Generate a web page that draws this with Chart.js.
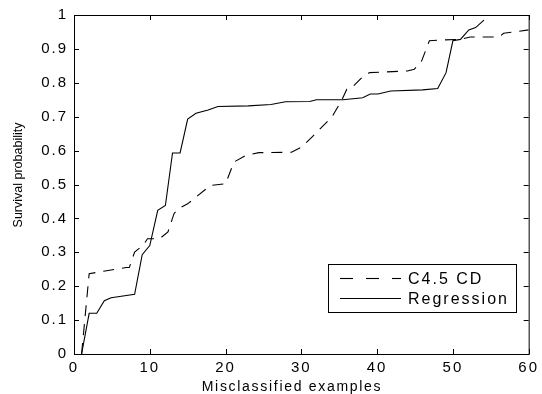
<!DOCTYPE html>
<html>
<head>
<meta charset="utf-8">
<script src="https://cdn.jsdelivr.net/npm/chart.js@4/dist/chart.umd.min.js"></script>
<style>
  html, body { margin: 0; padding: 0; background: #fff; }
  #wrap { width: 542px; height: 394px; }
</style>
</head>
<body>
<div id="wrap"><canvas id="surv" width="542" height="394"></canvas></div>
<script>
// curvas (x = exemplos mal classificados, y = probabilidade)
const c45X = [1, 2, 4.1, 6.9, 7.3, 8, 9.1, 9.7, 11.3, 12.4, 13.2, 13.7, 15, 18, 20, 21.1, 22.6, 24.4, 28.7, 30, 31.4, 34, 35.3, 36, 36.6, 38.1, 39, 44, 44.9, 45.8, 46.9, 48.2, 51, 52.3, 56.1, 56.7, 60];
const c45Y = [0, 0.237, 0.245, 0.255, 0.255, 0.301, 0.32, 0.34, 0.34, 0.36, 0.414, 0.428, 0.443, 0.497, 0.502, 0.566, 0.585, 0.594, 0.595, 0.61, 0.64, 0.698, 0.747, 0.781, 0.784, 0.818, 0.83, 0.835, 0.84, 0.86, 0.924, 0.926, 0.928, 0.935, 0.935, 0.946, 0.956];

const regX = [1, 2, 3, 4, 4.9, 5.8, 8, 9, 10, 11.05, 12.06, 13, 14, 15, 16.1, 17.7, 19, 23, 26, 27.9, 31.1, 32, 35.5, 38.1, 39.1, 40.1, 41.8, 46, 48, 49.1, 50, 51, 52.1, 53, 54.1];
const regY = [0, 0.12, 0.12, 0.157, 0.166, 0.169, 0.176, 0.293, 0.32, 0.424, 0.438, 0.593, 0.593, 0.693, 0.71, 0.72, 0.73, 0.732, 0.736, 0.744, 0.745, 0.75, 0.75, 0.756, 0.767, 0.767, 0.776, 0.779, 0.783, 0.83, 0.924, 0.928, 0.956, 0.963, 0.985];

const xTicks = [0, 10, 20, 30, 40, 50, 60];
const yTicks = [0, 0.1, 0.2, 0.3, 0.4, 0.5, 0.6, 0.7, 0.8, 0.9, 1];

const xTitle = 'Misclassified examples';
const yTitle = 'Survival probability';

const toPoints = (xs, ys) => xs.map((x, i) => ({ x: x, y: ys[i] }));
const FONT = "'Liberation Sans', Arial, sans-serif";

// a figura original é "esticada" na horizontal, então espaço entre letras
const spacingPlugin = {
    id: 'spacingPlugin',
    beforeDraw(chart) {
        chart.ctx.letterSpacing = '2px';
    }
};

// caixa, ticks para dentro, títulos e legenda estilo matlab
const boxPlugin = {
    id: 'boxPlugin',
    afterDraw(chart) {
        const ctx = chart.ctx;
        const a = chart.chartArea;
        const xs = chart.scales.x, ys = chart.scales.y;
        ctx.save();
        ctx.strokeStyle = '#000';
        ctx.lineWidth = 1;
        ctx.strokeRect(a.left + 0.5, a.top + 0.5, a.right - a.left, a.bottom - a.top);
        const len = 5;
        ctx.beginPath();
        xTicks.forEach(v => {
            const px = Math.round(xs.getPixelForValue(v)) + 0.5;
            ctx.moveTo(px, a.bottom); ctx.lineTo(px, a.bottom - len);
            ctx.moveTo(px, a.top); ctx.lineTo(px, a.top + len);
        });
        yTicks.forEach(v => {
            const py = Math.round(ys.getPixelForValue(v)) + 0.5;
            ctx.moveTo(a.left, py); ctx.lineTo(a.left + len, py);
            ctx.moveTo(a.right, py); ctx.lineTo(a.right - len, py);
        });
        ctx.stroke();

        ctx.fillStyle = '#000';
        // título do eixo x
        ctx.letterSpacing = '1.7px';
        ctx.font = '14px ' + FONT;
        ctx.textAlign = 'center';
        ctx.textBaseline = 'alphabetic';
        ctx.fillText(xTitle, 292, 391);
        // título do eixo y
        ctx.letterSpacing = '0px';
        ctx.font = '12.5px ' + FONT;
        ctx.save();
        ctx.translate(22, 175);
        ctx.rotate(-Math.PI / 2);
        ctx.fillText(yTitle, 0, 0);
        ctx.restore();

        // legenda
        const bx = 328, by = 264, bw = 188, bh = 48;
        ctx.fillStyle = '#fff';
        ctx.fillRect(bx, by, bw, bh);
        ctx.strokeRect(bx + 0.5, by + 0.5, bw, bh);
        ctx.letterSpacing = '2px';
        ctx.font = '16px ' + FONT;
        ctx.textAlign = 'left';
        ctx.textBaseline = 'middle';
        ctx.fillStyle = '#000';
        chart.data.datasets.forEach((ds, i) => {
            const yy = by + 14 + i * 20 + 0.5;
            ctx.setLineDash(ds.borderDash ? [13, 13] : []);
            ctx.lineWidth = ds.borderWidth;
            ctx.beginPath();
            ctx.moveTo(bx + 12, yy); ctx.lineTo(bx + 73, yy);
            ctx.stroke();
            ctx.setLineDash([]);
            ctx.fillText(ds.label, bx + 80, yy + 1);
        });
        ctx.restore();
    }
};

new Chart(document.getElementById('surv'), {
    type: 'line',
    data: {
        datasets: [
            { label: 'C4.5 CD', data: toPoints(c45X, c45Y), borderColor: '#000', borderWidth: 1.1, borderDash: [11, 8], pointRadius: 0, fill: false },
            { label: 'Regression', data: toPoints(regX, regY), borderColor: '#000', borderWidth: 1.1, pointRadius: 0, fill: false }
        ]
    },
    options: {
        responsive: false,
        animation: false,
        layout: { padding: { top: 14, right: 10, left: 0, bottom: 0 } },
        plugins: { legend: { display: false }, tooltip: { enabled: false } },
        scales: {
            x: {
                type: 'linear', min: 0, max: 60,
                afterBuildTicks: s => { s.ticks = xTicks.map(v => ({ value: v })); },
                afterFit: s => { s.height = 40; },
                grid: { display: false, drawTicks: false },
                border: { display: false },
                ticks: { color: '#000', font: { family: FONT, size: 15 }, padding: 5, maxRotation: 0 }
            },
            y: {
                type: 'linear', min: 0, max: 1,
                afterBuildTicks: s => { s.ticks = yTicks.map(v => ({ value: v })); },
                afterFit: s => { s.width = 74; },
                grid: { display: false, drawTicks: false },
                border: { display: false },
                ticks: { color: '#000', font: { family: FONT, size: 15 }, padding: 6, callback: v => String(Math.round(v * 10) / 10) }
            }
        }
    },
    plugins: [spacingPlugin, boxPlugin]
});
</script>
</body>
</html>
